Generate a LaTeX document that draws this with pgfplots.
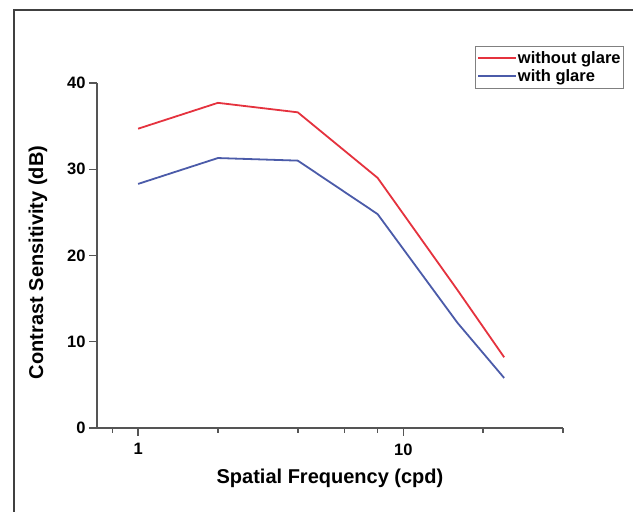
\documentclass[border=0pt]{standalone}
\usepackage{fontspec}
\setmainfont{Liberation Sans}
\usepackage{pgfplots}
\pgfplotsset{compat=1.18}
\definecolor{redline}{HTML}{E5323E}
\definecolor{blueline}{HTML}{4B5BA9}
\definecolor{axisgray}{HTML}{555555}

\begin{document}
\begin{tikzpicture}[x=1pt,y=1pt]
\useasboundingbox (0,0) rectangle (633,512);
\fill[white] (0,0) rectangle (633,512);
\draw[line width=2pt, color=black!75] (14,0) -- (14,502) -- (633,502);
\begin{semilogxaxis}[
  at={(97pt,84pt)}, anchor=south west,
  scale only axis, width=466pt, height=345pt,
  xmin=0.7, xmax=40, ymin=0, ymax=40,
  axis x line*=bottom, axis y line*=left,
  axis line style={axisgray, line width=1.5pt, -},
  xtick={1,10}, xticklabels={1,10},
  minor xtick={0.8,2,4,6,8,20,40},
  ytick={0,10,20,30,40}, yticklabels={0,10,20,30,40},
  tick style={axisgray, line width=1.5pt},
  tick align=outside,
  major tick length=8pt, minor tick length=5pt,
  /pgf/number format/assume math mode=true,
  ticklabel style={font=\bfseries\fontsize{16.5}{18}\selectfont},
  xticklabel style={yshift=-4pt},
  xlabel={Spatial Frequency (cpd)},
  ylabel={Contrast Sensitivity (dB)},
  label style={font=\bfseries\fontsize{20}{22}\selectfont},
  xlabel style={at={(axis description cs:0.5,-0.145)}, anchor=center},
  ylabel style={at={(axis description cs:-0.1266,0.48)}, anchor=center},
  legend style={at={(axis description cs:0.811,1.107)}, anchor=north west,
    draw=gray, font=\bfseries\fontsize{16.5}{17.5}\selectfont,
    inner xsep=2pt, inner ysep=4pt, row sep=2.5pt,
    nodes={inner sep=1pt}, cells={anchor=west}},
  legend image code/.code={\draw[#1] (5pt,0pt) -- (43pt,0pt);},
]
\addplot[color=redline, line width=1.8pt, line join=round] coordinates {
  (1,34.7) (2,37.7) (4,36.6) (8,29.0) (16,16.0) (24,8.2)
};
\addlegendentry{without glare}
\addplot[color=blueline, line width=1.8pt, line join=round] coordinates {
  (1,28.3) (2,31.3) (4,31.0) (8,24.8) (16,12.2) (24,5.8)
};
\addlegendentry{with glare}
\end{semilogxaxis}
\end{tikzpicture}
\end{document}
